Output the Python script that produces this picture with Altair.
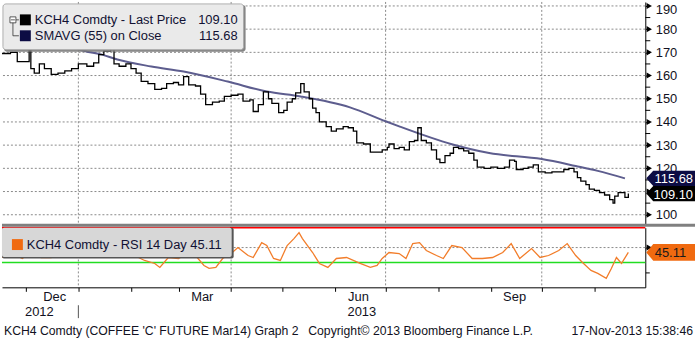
import altair as alt
import pandas as pd

# ---------------- data ----------------
price_dates = ["2012-11-17","2012-11-22","2012-11-26","2012-12-03","2012-12-04","2012-12-06","2012-12-09","2012-12-12",
"2012-12-16","2012-12-20","2012-12-24","2012-12-28","2013-01-01","2013-01-06","2013-01-10","2013-01-13","2013-01-16",
"2013-01-20","2013-01-22","2013-01-25","2013-01-29","2013-02-01","2013-02-04","2013-02-07","2013-02-11","2013-02-15",
"2013-02-19","2013-02-22","2013-02-26","2013-03-01","2013-03-04","2013-03-07","2013-03-11","2013-03-14","2013-03-17",
"2013-03-21","2013-03-25","2013-03-28","2013-04-01","2013-04-05","2013-04-08","2013-04-12","2013-04-14","2013-04-17",
"2013-04-20","2013-04-23","2013-04-25","2013-04-29","2013-05-02","2013-05-04","2013-05-07","2013-05-09","2013-05-12",
"2013-05-14","2013-05-17","2013-05-19","2013-05-21","2013-05-23","2013-05-27","2013-05-30","2013-06-02","2013-06-06",
"2013-06-09","2013-06-12","2013-06-14","2013-06-18","2013-06-22","2013-06-25","2013-06-29","2013-07-02","2013-07-03",
"2013-07-06","2013-07-09","2013-07-12","2013-07-15","2013-07-18","2013-07-20","2013-07-22","2013-07-25","2013-07-28",
"2013-07-31","2013-08-02","2013-08-05","2013-08-08","2013-08-10","2013-08-13","2013-08-16","2013-08-19","2013-08-22",
"2013-08-24","2013-08-28","2013-09-01","2013-09-05","2013-09-09","2013-09-12","2013-09-15","2013-09-16","2013-09-20",
"2013-09-23","2013-09-26","2013-09-29","2013-10-03","2013-10-07","2013-10-11","2013-10-14","2013-10-17","2013-10-20",
"2013-10-22","2013-10-24","2013-10-27","2013-10-29","2013-11-01","2013-11-04","2013-11-07","2013-11-10","2013-11-12",
"2013-11-13","2013-11-15","2013-11-17","2013-11-19","2013-11-21"]
price_vals = [169.5,170,166,171,163,161,165,163,160.5,161,162,163,165,164,165.5,169,170.5,172,165,164,165,163,161,157.5,
156.5,154,154.5,156.5,157,156,159.5,156,155.5,152,147.5,148.5,149,151,151.5,152,149,149.5,144.5,147.5,153,150,148,144,
145,148.5,150,152.5,156.5,153,150,146,144,140,138,136,137,138,137.5,136,131,130.5,127,127,128,129,130.5,128.5,129,128,
131.5,132,137.5,132,131,128,124,122.5,125.5,126.5,129,128.5,127.5,126.5,123.5,120.5,120,120.5,120,120.5,123.5,123,119.5,
120,120.5,121.5,118.5,118,118.5,118.5,119.5,120,118.5,116,114.5,113,111,110.5,109.5,108.5,106.5,105,108,109.5,109.5,
107.5,109.10]

sma_dates = ["2012-12-01","2012-12-20","2013-01-01","2013-01-15","2013-01-24","2013-02-13","2013-03-04","2013-03-30",
"2013-04-22","2013-05-12","2013-06-10","2013-07-01","2013-07-09","2013-08-09","2013-08-31","2013-10-01","2013-10-21",
"2013-11-03","2013-11-19"]
sma_vals = [186,177.6,171.5,169,166.9,163.9,161.7,157.4,153.1,151,146.3,140.3,138.1,130.4,126.6,124,121,118.9,115.68]

rsi_dates = ["2012-11-17","2012-11-23","2012-11-29","2012-12-05","2012-12-10","2012-12-16","2012-12-22","2012-12-28",
"2013-01-03","2013-01-09","2013-01-15","2013-01-19","2013-01-22","2013-01-28","2013-02-03","2013-02-09","2013-02-15",
"2013-02-18","2013-02-23","2013-03-01","2013-03-07","2013-03-12","2013-03-16","2013-03-19","2013-03-23","2013-03-27",
"2013-04-01","2013-04-05","2013-04-11","2013-04-14","2013-04-19","2013-04-22","2013-04-26","2013-04-30","2013-05-04",
"2013-05-08","2013-05-11","2013-05-13","2013-05-19","2013-05-23","2013-05-28","2013-06-02","2013-06-08","2013-06-16",
"2013-06-22","2013-06-26","2013-06-29","2013-07-03","2013-07-09","2013-07-13","2013-07-17","2013-07-21","2013-07-25",
"2013-07-31","2013-08-04","2013-08-09","2013-08-15","2013-08-21","2013-08-27","2013-09-02","2013-09-08","2013-09-13",
"2013-09-18","2013-09-25","2013-09-30","2013-10-05","2013-10-11","2013-10-16","2013-10-21","2013-10-25","2013-10-30",
"2013-11-03","2013-11-08","2013-11-11","2013-11-14","2013-11-17","2013-11-21"]
rsi_vals = [40,44,39,47,40,40,45,54,60,52,54,60,45,47,42,37,34,30,40,39,45,40,32,29,30,39,44,50,42,40,55,52,39,37,52,
59,65,59,45,34,30,39,40,34,30,32,39,45,44,39,54,55,47,42,39,52,50,39,39,40,45,54,39,49,40,42,47,54,42,35,27,24,19,29,
40,34,45.11]

last_price = 109.10
last_sma = 115.68
last_rsi = 45.11

price_grid = [100, 110, 120, 130, 140, 150, 160, 170, 180, 190]
price_labels = [100, 120, 130, 140, 150, 160, 170, 180, 190]   # 110 lies under the price tag
price_minor = [105, 115, 125, 135, 145, 155, 165, 175, 185]
rsi_ticks = [25, 50]
rsi_grid = [50]
rsi_upper = 70
rsi_lower = 35
quarter_starts = ["2013-01-01", "2013-04-01", "2013-07-01", "2013-10-01"]
month_starts = ["2012-12-01", "2013-01-01", "2013-02-01", "2013-03-01", "2013-04-01", "2013-05-01", "2013-06-01",
                "2013-07-01", "2013-08-01", "2013-09-01", "2013-10-01", "2013-11-01"]
month_label_dates = ["2012-12-18", "2013-03-15", "2013-06-15", "2013-09-15"]
month_label_text = ["Dec", "Mar", "Jun", "Sep"]
year_label_dates = ["2012-12-09", "2013-06-17"]
year_label_text = ["2012", "2013"]
year_break = ["2013-01-01"]

legend_top = ["KCH4 Comdty - Last Price", "SMAVG (55) on Close"]
legend_rsi = "KCH4 Comdty - RSI 14 Day"
footer = ["KCH4 Comdty (COFFEE 'C' FUTURE Mar14) Graph 2", "Copyright\u00a9 2013 Bloomberg Finance L.P.",
          "17-Nov-2013 15:38:46"]

FONT = "Liberation Sans"
W = 647
H1 = 223
H2 = 60
ORANGE = "#f06a10"
NAVY = "#0c0c44"
SMA_COL = "#5d5d8e"
TXT = "#111122"

def d(s):
    return f"{s}T00:00:00"

def dt(s):
    return alt.DateTime(year=int(s[:4]), month=int(s[5:7]), date=int(s[8:]))

price_df = pd.DataFrame({"date": [d(s) for s in price_dates], "v": price_vals})
sma_df = pd.DataFrame({"date": [d(s) for s in sma_dates], "v": sma_vals})
rsi_df = pd.DataFrame({"date": [d(s) for s in rsi_dates], "v": rsi_vals})

xscale = alt.Scale(domain=[dt("2012-11-17"), dt("2013-12-01")])
yscale1 = alt.Scale(domain=[96.14, 191.72], nice=False, zero=False)
yscale2 = alt.Scale(domain=[10, 70], nice=False, zero=False)

yaxis1 = alt.Axis(orient="right", values=price_labels, tickSize=4, tickColor="black", domainColor="black",
                  domainWidth=1, labelFont=FONT, labelFontSize=13, labelColor=TXT, labelPadding=6,
                  grid=False, labelOverlap=False, labelFlush=6, labelFlushOffset=2, title=None)
yaxis2 = alt.Axis(orient="right", values=rsi_ticks, labels=False, tickSize=4, tickColor="black",
                  domainColor="black", grid=False, title=None)
xaxis2 = alt.Axis(values=[dt(s) for s in month_starts], labels=False, tickSize=4, tickColor="black",
                  domainColor="black", grid=False, title=None)

def X1():
    return alt.X("date:T", scale=xscale, axis=None, title=None)

def X2():
    return alt.X("date:T", scale=xscale, axis=xaxis2, title=None)

def Y1():
    return alt.Y("v:Q", scale=yscale1, axis=yaxis1, title=None)

def Y2():
    return alt.Y("v:Q", scale=yscale2, axis=yaxis2, title=None)

one = pd.DataFrame({"a": [0]})
GRID = dict(color="#8a8a8a", strokeDash=[2, 2], strokeWidth=1)

# ---------------- top panel ----------------
hgrid = alt.Chart(pd.DataFrame({"v": price_grid})).mark_rule(**GRID).encode(y=Y1())
vgrid1 = alt.Chart(pd.DataFrame({"date": [d(s) for s in quarter_starts]})).mark_rule(**GRID).encode(x=X1())
minor1 = alt.Chart(pd.DataFrame({"v": price_minor})).mark_rule(color="black", strokeWidth=1).encode(
    y=Y1(), x=alt.value(W), x2=alt.value(W + 5))

sma_line = alt.Chart(sma_df).mark_line(color=SMA_COL, strokeWidth=2, interpolate="monotone", clip=True).encode(
    x=X1(), y=Y1())
price_line = alt.Chart(price_df).mark_line(color="black", strokeWidth=1.3, interpolate="step-after", clip=True).encode(
    x=X1(), y=Y1())

tri1 = alt.Chart(pd.DataFrame({"v": price_grid})).mark_point(
    shape="triangle-right", filled=True, color="black", size=38, opacity=1).encode(x=alt.value(651), y=Y1())

TAG = "M -0.98 0 L -0.7 -0.31 L 0.98 -0.31 L 0.98 0.31 L -0.7 0.31 Z"
TAG2 = "M -0.98 0 L -0.7 -0.34 L 0.98 -0.34 L 0.98 0.34 L -0.7 0.34 Z"
tags_df = pd.DataFrame({"v": [last_sma, last_price], "lab": [f"{last_sma:.2f}", f"{last_price:.2f}"],
                        "col": [NAVY, "#000000"]})
tags = alt.Chart(tags_df).mark_point(shape=TAG, filled=True, size=2500, opacity=1).encode(
    x=alt.value(672.5), y=Y1(), color=alt.Color("col:N", scale=None))
tag_txt = alt.Chart(tags_df).mark_text(align="right", baseline="middle", font=FONT, fontSize=13,
                                       color="white", dy=1).encode(x=alt.value(695), y=Y1(), text="lab:N")

# legend box (top)
leg_shadow = alt.Chart(one).mark_rect(color="#777777", cornerRadius=3, opacity=0.9).encode(
    x=alt.value(2), x2=alt.value(245), y=alt.value(3), y2=alt.value(50))
leg_box = alt.Chart(one).mark_rect(fill="#eeeeee", stroke="#aaaaaa", cornerRadius=3, opacity=0.97).encode(
    x=alt.value(1), x2=alt.value(243), y=alt.value(2), y2=alt.value(48))
leg_sw = alt.Chart(pd.DataFrame({"y": [18, 34], "c": ["#000000", NAVY]})).mark_square(
    size=121, filled=True, opacity=1).encode(
    x=alt.value(23.5), y=alt.Y("y:Q", scale=None), color=alt.Color("c:N", scale=None))
leg_txt = alt.Chart(pd.DataFrame({"y": [18, 34], "t": legend_top})).mark_text(
    align="left", baseline="middle", font=FONT, fontSize=13, color="#111133").encode(
    x=alt.value(33), y=alt.Y("y:Q", scale=None), text="t:N")
leg_val = alt.Chart(pd.DataFrame({"y": [18, 34], "t": [f"{last_price:.2f}", f"{last_sma:.2f}"]})).mark_text(
    align="right", baseline="middle", font=FONT, fontSize=13, color="#111133").encode(
    x=alt.value(237), y=alt.Y("y:Q", scale=None), text="t:N")
tree_box = alt.Chart(one).mark_rect(fill="white", stroke="#333333", strokeWidth=0.8).encode(
    x=alt.value(8), x2=alt.value(14), y=alt.value(15), y2=alt.value(21))
tree_lines = alt.Chart(pd.DataFrame({"x": [9, 11, 11, 14], "x2": [13, 11, 17, 17],
                                     "y": [18, 21, 34, 18], "y2": [18, 34, 34, 18]})).mark_rule(
    color="#333333", strokeWidth=0.8).encode(
    x=alt.X("x:Q", scale=None), x2="x2:Q", y=alt.Y("y:Q", scale=None), y2="y2:Q")

top = alt.layer(hgrid, vgrid1, minor1, sma_line, price_line, tri1, tags, tag_txt,
                leg_shadow, leg_box, leg_sw, leg_txt, leg_val, tree_box, tree_lines).properties(width=W, height=H1)

# ---------------- bottom panel ----------------
vgrid2 = alt.Chart(pd.DataFrame({"date": [d(s) for s in quarter_starts]})).mark_rule(**GRID).encode(x=X2())
hgrid2 = alt.Chart(pd.DataFrame({"v": rsi_grid})).mark_rule(**GRID).encode(y=Y2())
red = alt.Chart(pd.DataFrame({"v": [rsi_upper]})).mark_rule(color="#ff0000", strokeWidth=1.6).encode(y=Y2())
green = alt.Chart(pd.DataFrame({"v": [rsi_lower]})).mark_rule(color="#22dd22", strokeWidth=1.4).encode(y=Y2())
rsi_line = alt.Chart(rsi_df).mark_line(color="#f27d2a", strokeWidth=1.3, clip=True).encode(x=X2(), y=Y2())
tri2 = alt.Chart(pd.DataFrame({"v": rsi_grid})).mark_point(
    shape="triangle-right", filled=True, color="black", size=38, opacity=1).encode(x=alt.value(651), y=Y2())
rtag_df = pd.DataFrame({"v": [last_rsi], "lab": [f"{last_rsi:.2f}"]})
rtag = alt.Chart(rtag_df).mark_point(shape=TAG2, filled=True, size=2500, color=ORANGE, opacity=1).encode(
    x=alt.value(672.5), y=Y2())
rtag_txt = alt.Chart(rtag_df).mark_text(align="right", baseline="middle", font=FONT, fontSize=13,
                                        color="#1a1a1a", dy=1).encode(x=alt.value(688), y=Y2(), text="lab:N")

sep_bar = alt.Chart(one).mark_rule(color="#808080", strokeWidth=3).encode(
    x=alt.value(0), x2=alt.value(697), y=alt.value(-2.5))
rleg_shadow = alt.Chart(one).mark_rect(color="#555555", cornerRadius=2).encode(
    x=alt.value(0), x2=alt.value(233), y=alt.value(0), y2=alt.value(31))
rleg_box = alt.Chart(one).mark_rect(fill="#eeeeee", cornerRadius=2, opacity=0.85).encode(
    x=alt.value(0), x2=alt.value(231), y=alt.value(0), y2=alt.value(29.5))
rleg_sw = alt.Chart(one).mark_square(size=121, filled=True, color=ORANGE, opacity=1).encode(
    x=alt.value(15.5), y=alt.value(17))
rleg_txt = alt.Chart(pd.DataFrame({"t": [f"{legend_rsi} {last_rsi:.2f}"]})).mark_text(
    align="left", baseline="middle", font=FONT, fontSize=13, color="#111133").encode(
    x=alt.value(25), y=alt.value(17), text="t:N")

mlab = alt.Chart(pd.DataFrame({"date": [d(s) for s in month_label_dates], "t": month_label_text})).mark_text(
    baseline="middle", font=FONT, fontSize=13, color=TXT).encode(x=X2(), y=alt.value(H2 + 10), text="t:N")
ylab = alt.Chart(pd.DataFrame({"date": [d(s) for s in year_label_dates], "t": year_label_text})).mark_text(
    baseline="middle", font=FONT, fontSize=13, color=TXT).encode(x=X2(), y=alt.value(H2 + 25), text="t:N")
ybreak = alt.Chart(pd.DataFrame({"date": [d(s) for s in year_break]})).mark_rule(color="#555555").encode(
    x=X2(), y=alt.value(H2 + 18), y2=alt.value(H2 + 31))
foot_l = alt.Chart(pd.DataFrame({"x": [2, 308], "t": footer[:2]})).mark_text(
    baseline="middle", align="left", font=FONT, fontSize=12.3, color=TXT).encode(
    x=alt.X("x:Q", scale=None), y=alt.value(H2 + 44), text="t:N")
foot_r = alt.Chart(pd.DataFrame({"x": [695], "t": footer[2:]})).mark_text(
    baseline="middle", align="right", font=FONT, fontSize=12.3, color=TXT).encode(
    x=alt.X("x:Q", scale=None), y=alt.value(H2 + 44), text="t:N")

bottom = alt.layer(vgrid2, hgrid2, red, green, rsi_line, tri2, rtag, rtag_txt, sep_bar,
                   rleg_shadow, rleg_box, rleg_sw, rleg_txt, mlab, ylab, ybreak, foot_l, foot_r
                   ).properties(width=W, height=H2)

chart = alt.vconcat(top, bottom, spacing=4, padding=0, bounds="flush",
                    background="white").configure_view(stroke=None)

chart.save("out.html", embed_options={"renderer": "svg", "actions": False})
